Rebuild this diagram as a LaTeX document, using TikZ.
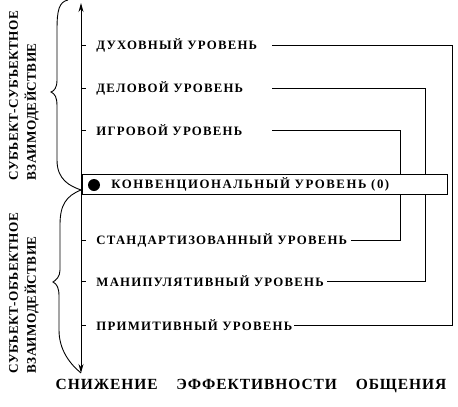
\documentclass[tikz,border=0pt]{standalone}
\usepackage{fontspec}
\setmainfont{Liberation Serif}
\usetikzlibrary{arrows.meta,calc}
\def\axisx{81}
\tikzset{
	every node/.style={
		font=\bfseries\fontsize{12.8}{15}\selectfont\addfontfeatures{LetterSpace=9.5}
	},
	level/.style={
		anchor=west,
		inner sep=1pt
	},
	convbox/.style={
		shape=rectangle,
		draw,
		fill=white,
		line width=0.7pt,
		minimum width=365pt,
		minimum height=20pt,
		inner sep=0pt
	},
	side/.style={
		rotate=90,
		anchor=west,
		align=left,
		inner sep=0pt,
		font=\bfseries\fontsize{13.2}{18}\selectfont\addfontfeatures{LetterSpace=3}
	},
	link/.style={line width=0.8pt},
	tick/.style={line width=0.8pt}
}
\begin{document}
\begin{tikzpicture}[x=1pt,y=-1pt,line width=0.9pt]
	\useasboundingbox (0,0) rectangle (458,407);
	
	% levels on the axis
	\foreach \name/\y/\txt in {1/45/ДУХОВНЫЙ, 2/88/ДЕЛОВОЙ, 3/130/ИГРОВОЙ, 5/240/СТАНДАРТИЗОВАННЫЙ, 6/281/МАНИПУЛЯТИВНЫЙ, 7/325/ПРИМИТИВНЫЙ}
	{
		\draw[tick] (\axisx,\y) -- ++(5,0);
		\node[level] (L-\name) at (95,\y) {\txt{} УРОВЕНЬ};
	}
	
	\coordinate (start) at (272,0);
	\coordinate (r1) at (400,0);
	\coordinate (r2) at (425,0);
	\coordinate (r3) at (452,0);
	
	\draw[link] (L-1.east -| start) -- (L-1.east -| r3) |- (L-7.east);
	\draw[link] (L-2.east -| start) -- (L-2.east -| r2) |- ([xshift=2pt]L-6.east);
	\draw[link] (L-3.east -| start) -- (L-3.east -| r1) |- ([xshift=2pt]L-5.east);
	
	% conventional level
	\node[convbox] (conv) at (264.5,184) {};
	\node[circle,fill,minimum size=12pt,inner sep=0pt] (dot) at (94,185) {};
	\node[level,font=\bfseries\fontsize{12.8}{15}\selectfont\addfontfeatures{LetterSpace=12}] (L-4) at (110,184) {КОНВЕНЦИОНАЛЬНЫЙ УРОВЕНЬ (0)};
	
	% axis
	\coordinate (top) at (\axisx,3);
	\coordinate (bottom) at (\axisx,373);
	\draw[{Stealth[length=9pt,width=5pt]}-{Stealth[length=9pt,width=5pt]}] (bottom) -- (top);
	
	% braces
	\draw (68,0) .. controls (59,2) and (57,10) .. (57,30) -- (57,80)
		.. controls (57,88) and (54,91) .. (51,92)
		.. controls (55,94) and (57,97) .. (57,106) -- (57,160)
		.. controls (57,180) and (70,186) .. (\axisx,190);
	\draw (\axisx,190) .. controls (66,196) and (60,205) .. (60,225) -- (60,270)
		.. controls (60,277) and (56,280) .. (53,282)
		.. controls (57,284) and (59,288) .. (59,296) -- (59,330)
		.. controls (59,350) and (70,364) .. (bottom);
	
	\node[side] (subj) at (24,181) {СУБЪЕКТ-СУБЪЕКТНОЕ\\ВЗАИМОДЕЙСТВИЕ};
	\node[side] (obj) at (24,374) {СУБЪЕКТ-ОБЪЕКТНОЕ\\ВЗАИМОДЕЙСТВИЕ};
	
	\node[font=\bfseries\fontsize{15.5}{17}\selectfont\addfontfeatures{LetterSpace=6}] (title) at (251,386) {СНИЖЕНИЕ\hspace{14pt} ЭФФЕКТИВНОСТИ\hspace{14pt} ОБЩЕНИЯ};
\end{tikzpicture}
\end{document}
